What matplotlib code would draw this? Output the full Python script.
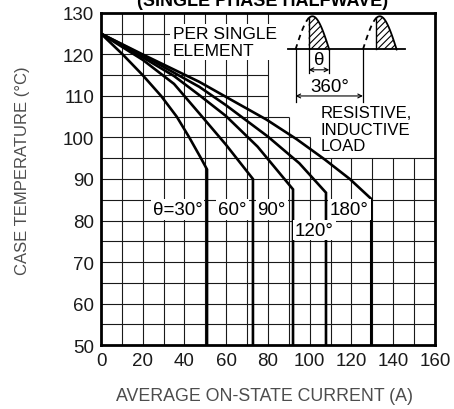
import numpy as np
import matplotlib.pyplot as plt

plt.rcParams["font.family"] = ["Liberation Sans", "DejaVu Sans"]
plt.rcParams["hatch.linewidth"] = 0.8

# curves: average current (A) vs case temperature (°C), then a vertical drop at the limit
c30_i = [0, 10.4, 20, 28.8, 36.3, 42.3, 47.9, 50.8]
c30_t = [125, 120, 115, 110, 105, 100, 95, 92.3]
c60_i = [0, 20, 35, 47.1, 59.8, 72.8]
c60_t = [125, 118.7, 112.9, 105.8, 98.3, 90.0]
c90_i = [0, 20, 35, 47.1, 59.8, 75, 92.0]
c90_t = [125, 119.3, 114.8, 110.2, 105.2, 97.8, 87.5]
c120_i = [0, 20, 47.1, 59.8, 80, 95, 107.8]
c120_t = [125, 119.8, 112.2, 107.8, 100.2, 93.8, 86.7]
c180_i = [0, 20, 47.1, 59.8, 79.3, 93.7, 107.2, 119.2, 129.5]
c180_t = [125, 120.0, 113.4, 109.8, 104.3, 99.6, 94.7, 90.0, 85.2]

curves = [(c30_i, c30_t), (c60_i, c60_t), (c90_i, c90_t),
          (c120_i, c120_t), (c180_i, c180_t)]

x_ticks = [0, 20, 40, 60, 80, 100, 120, 140, 160]
y_ticks = [50, 60, 70, 80, 90, 100, 110, 120, 130]

fig = plt.figure(figsize=(4.54, 4.10), dpi=100)
ax = fig.add_axes([0.2225, 0.156, 0.7355, 0.810])
ax.set_xlim(0, 160)
ax.set_ylim(50, 130)

# grid, with the blank corner at top right
for x in range(10, 160, 10):
    if x <= 80:
        top = 130
    elif x == 90:
        top = 105
    elif x == 100:
        top = 100
    else:
        top = 95
    ax.vlines(x, 50, top, color="0.1", lw=0.8, zorder=1)
for y in range(55, 130, 5):
    if y <= 95:
        right = 160
    elif y == 100:
        right = 100
    elif y == 105:
        right = 90
    else:
        right = 80
    ax.hlines(y, 0, right, color="0.1", lw=0.8, zorder=1)

for ci, ct in curves:
    ax.plot(ci + [ci[-1]], ct + [50], color="black", lw=1.9,
            solid_joinstyle="miter", zorder=3)

box = dict(boxstyle="square,pad=0.1", fc="white", ec="none")
fs = 12
fn = 13.5
ax.text(48.6, 82.6, "θ=30°", ha="right", va="center", fontsize=fn, bbox=box, zorder=5)
ax.text(63.0, 82.6, "60°", ha="center", va="center", fontsize=fn, bbox=box, zorder=5)
ax.text(81.8, 82.6, "90°", ha="center", va="center", fontsize=fn, bbox=box, zorder=5)
ax.text(102.2, 77.7, "120°", ha="center", va="center", fontsize=fn, bbox=box, zorder=5)
ax.text(119.0, 82.6, "180°", ha="center", va="center", fontsize=fn, bbox=box, zorder=5)
ax.text(34.3, 123.0, "PER SINGLE\nELEMENT", ha="left", va="center", fontsize=fs + 0.5,
        linespacing=1.12, bbox=dict(boxstyle="square,pad=0.15", fc="white", ec="none"),
        zorder=5)
ax.text(105.3, 102.0, "RESISTIVE,\nINDUCTIVE\nLOAD", ha="left", va="center",
        fontsize=fs, linespacing=1.15, zorder=5)

# waveform sketch
base = 121.2
amp = 8.0
period = 32.3
start = 93.2
for k in range(2):
    s = start + k * period
    xd = np.linspace(s, s + 6.3, 30)
    xs = np.linspace(s + 6.3, s + 16.15, 40)
    yd = base + amp * np.sin(np.pi * (xd - s) / 16.15)
    ys = base + amp * np.sin(np.pi * (xs - s) / 16.15)
    ax.plot(xd, yd, color="black", lw=1.3, ls=(0, (3, 2.5)), zorder=4)
    ax.plot(xs, ys, color="black", lw=1.3, zorder=4)
    ax.plot([xs[0], xs[0]], [base, ys[0]], color="black", lw=1.0, zorder=4)
    ax.fill_between(xs, base, ys, facecolor="white", edgecolor="black",
                    hatch="/////", lw=0, zorder=3.5)
ax.plot([89.5, 145.5], [base, base], color="black", lw=1.3, zorder=4)

for xe in [start, start + period]:
    ax.plot([xe, xe], [base, 108.6], color="black", lw=0.9, zorder=4)
for xe in [start + 6.3, start + 16.15]:
    ax.plot([xe, xe], [base, 115.6], color="black", lw=0.9, zorder=4)
ax.annotate("", xy=(start + 6.3, 116.3), xytext=(start + 16.15, 116.3),
            arrowprops=dict(arrowstyle="<->", lw=0.8, color="black",
                            shrinkA=0, shrinkB=0, mutation_scale=7), zorder=4)
ax.annotate("", xy=(start, 110.0), xytext=(start + period, 110.0),
            arrowprops=dict(arrowstyle="<->", lw=0.8, color="black",
                            shrinkA=0, shrinkB=0, mutation_scale=7), zorder=4)
ax.text(start + 11.2, 118.9, "θ", ha="center", va="center", fontsize=fn, zorder=5)
ax.text(start + 16.2, 112.4, "360°", ha="center", va="center", fontsize=fn, zorder=5)

for sp in ax.spines.values():
    sp.set_linewidth(2.0)
    sp.set_zorder(6)
ax.set_xticks(x_ticks)
ax.set_yticks(y_ticks)
ax.tick_params(length=0, labelsize=fn, pad=5, colors="0.1")

fig.text(265 / 454, 1 - 397 / 410, "AVERAGE ON-STATE CURRENT (A)", ha="center",
         va="center", fontsize=12.8, color="0.3")
fig.text(23 / 454, 1 - 171 / 410, "CASE TEMPERATURE (°C)", ha="center",
         va="center", rotation=90, fontsize=12, color="0.3")
fig.text(263 / 454, 1 - 6.5 / 410, "(SINGLE PHASE HALFWAVE)", ha="center",
         va="baseline", fontsize=13, fontweight="bold")

fig.savefig("out.png", dpi=100)
